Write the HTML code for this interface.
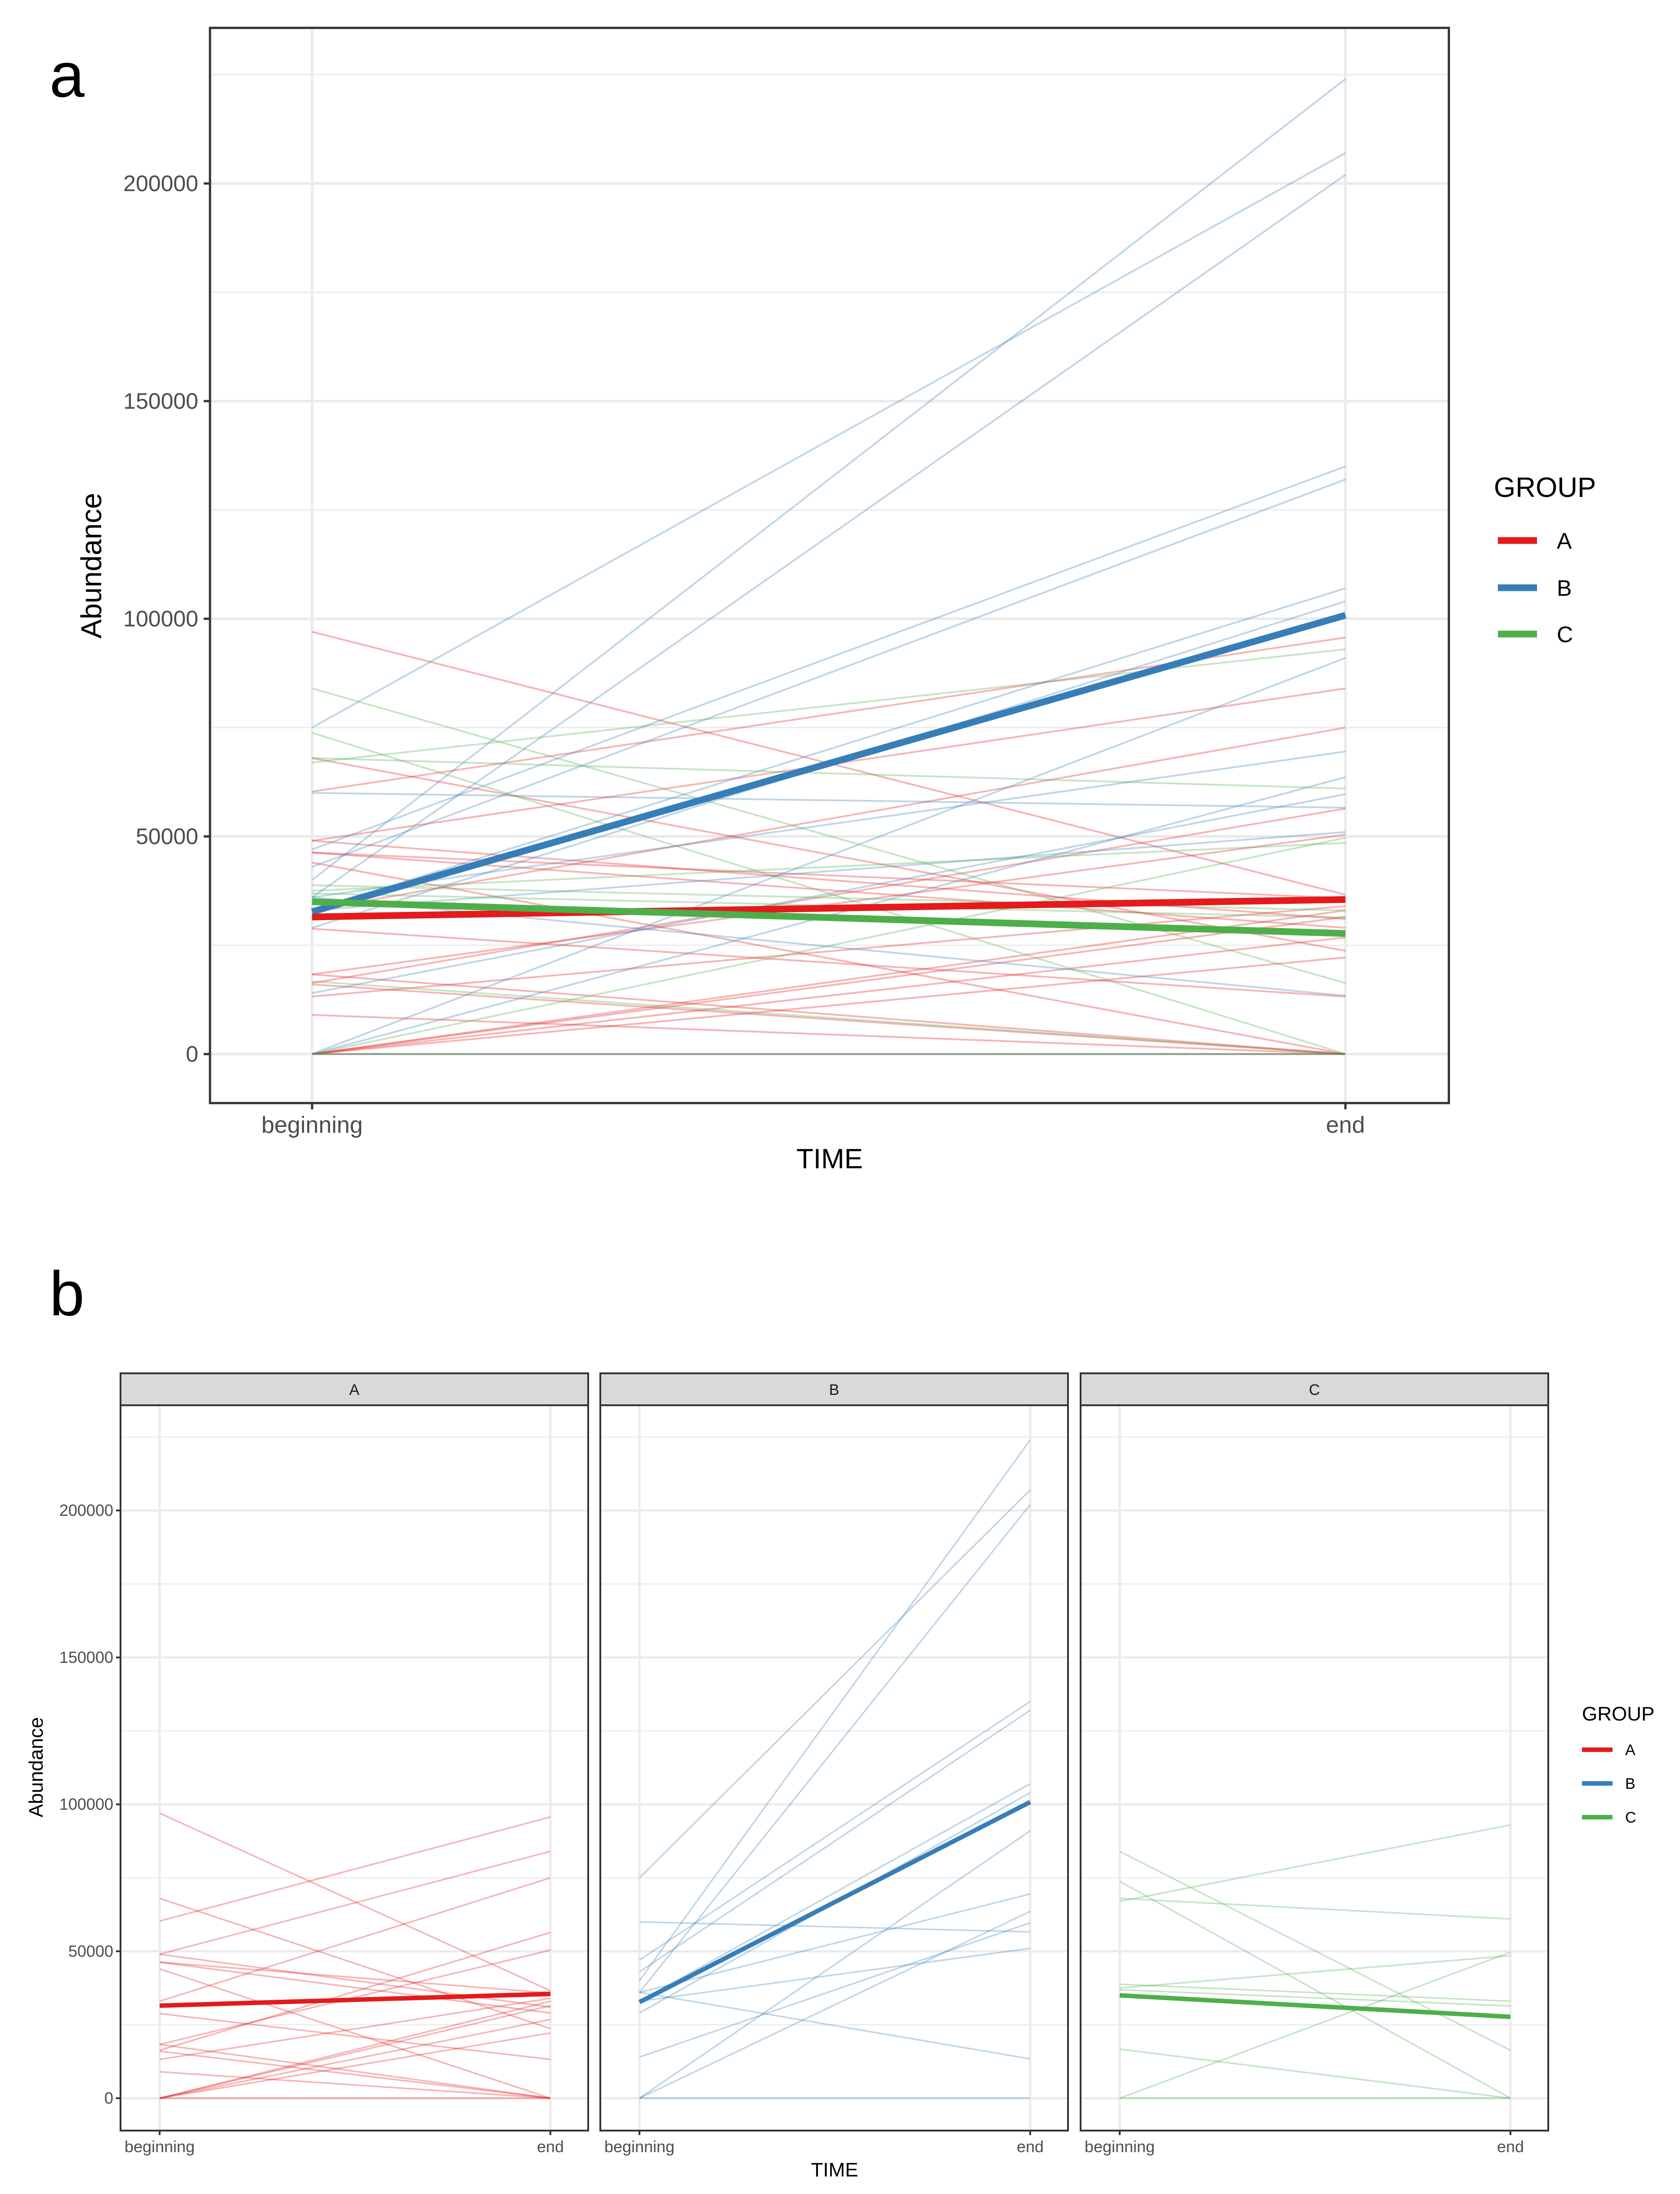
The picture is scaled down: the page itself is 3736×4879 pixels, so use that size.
<!DOCTYPE html>
<html><head><meta charset="utf-8"><style>
html,body{margin:0;padding:0;background:#fff}
svg{display:block;font-family:"Liberation Sans",Arial,sans-serif}
</style></head><body>
<svg id="chart" width="3736" height="4879" viewBox="0 0 3736 4879" xmlns="http://www.w3.org/2000/svg"></svg>
<script>
// ---- data (values in thousands) ----
const groups = ["A", "B", "C"];
const timeLabels = ["beginning", "end"];
const yTicks = [0, 50000, 100000, 150000, 200000];
const yTickLabels = ["0", "50000", "100000", "150000", "200000"];
const aBegin = [97, 68, 60.3, 49, 33, 49, 46.3, 46.3, 44, 28.8, 18.3, 16.3, 13.2, 18.3, 9, 0, 0, 0, 0, 0, 16];
const aEnd   = [36.6, 23.7, 95.7, 84, 75, 31, 29, 35.8, 0, 13.2, 50.4, 56.4, 34, 0, 0, 33, 31.5, 26.8, 22.2, 0, 0];
const bBegin = [75, 40, 36, 47, 43, 33, 29, 60, 36, 33, 36, 14, 0, 0, 0];
const bEnd   = [207, 224, 202, 135, 132, 107, 104, 56.6, 69.5, 51, 13.4, 59.7, 91, 63.6, 0];
const cBegin = [84, 73.8, 68, 67, 38.8, 36.9, 37.5, 16.7, 0, 0];
const cEnd   = [16.3, 0, 61, 93, 33, 31.4, 48.5, 0, 49.7, 0];
const meanBegin = [31.5, 32.7, 35];
const meanEnd   = [35.5, 100.8, 27.7];
const colors = ["#E41A1C", "#377EB8", "#4DAF4A"];

const svg = document.getElementById('chart');
const NS = "http://www.w3.org/2000/svg";
function mk(tag, attrs, parent) {
  const e = document.createElementNS(NS, tag);
  for (const k in attrs) e.setAttribute(k, attrs[k]);
  (parent || svg).appendChild(e);
  return e;
}
function txt(s, attrs, parent) { const t = mk('text', attrs, parent); t.textContent = s; return t; }
const begins = [aBegin, bBegin, cBegin], ends = [aEnd, bEnd, cEnd];

// ===== Panel a =====
const A = {l: 467, r: 3222, t: 62, b: 2453, x0: 694, x1: 2992, y0: 2344, per50: 484};
function yA(v) { return A.y0 - v / 50000 * A.per50; }
function xA(i) { return i === 0 ? A.x0 : A.x1; }
const gA = mk('g', {});


for (let v = -0; v <= 225000; v += 25000) {
  const major = v % 50000 === 0;
  const ln = mk('line', {x1: A.l, x2: A.r, y1: yA(v), y2: yA(v), stroke: "#EBEBEB", 'stroke-width': major ? 6 : 3}, gA);
  
  
}
for (let i = 0; i < 2; i++) {
  const ln = mk('line', {x1: xA(i), x2: xA(i), y1: A.t, y2: A.b, stroke: "#EBEBEB", 'stroke-width': 6}, gA);
  
  
}
for (let g = 0; g < 3; g++) {
  for (let k = 0; k < begins[g].length; k++) {
    const ln = mk('line', {x1: xA(0), y1: yA(begins[g][k] * 1000), x2: xA(1), y2: yA(ends[g][k] * 1000), stroke: colors[g], 'stroke-opacity': 0.32, 'stroke-width': 4}, gA);
    
    
  }
}
for (const g of [1, 0, 2]) {
  const ln = mk('line', {x1: xA(0), y1: yA(meanBegin[g] * 1000), x2: xA(1), y2: yA(meanEnd[g] * 1000), stroke: colors[g], 'stroke-width': 15}, gA);
  
  
}
const frA = mk('rect', {x: A.l, y: A.t, width: A.r - A.l, height: A.b - A.t, fill: "none", stroke: "#333", 'stroke-width': 5}, gA);


yTicks.forEach((v, i) => {
  const tk = mk('line', {x1: A.l - 14, x2: A.l, y1: yA(v), y2: yA(v), stroke: "#333", 'stroke-width': 5}, gA);
  
  
  const t = txt(yTickLabels[i], {x: A.l - 26, y: yA(v) + 17, 'text-anchor': 'end', 'font-size': 50, fill: "#4D4D4D"}, gA);
  
  
});
timeLabels.forEach((s, i) => {
  const tk = mk('line', {x1: xA(i), x2: xA(i), y1: A.b, y2: A.b + 14, stroke: "#333", 'stroke-width': 5}, gA);
  
  
  const t = txt(s, {x: xA(i), y: A.b + 66, 'text-anchor': 'middle', 'font-size': 52, fill: "#4D4D4D"}, gA);
  
  
});
let t;
t = txt("a", {x: 110, y: 215, 'font-size': 140, fill: "#000"});  
t = txt("Abundance", {x: 225, y: 1258, 'text-anchor': 'middle', 'font-size': 64, fill: "#000", transform: "rotate(-90 225 1258)"});  
t = txt("TIME", {x: 1845, y: 2598, 'text-anchor': 'middle', 'font-size': 62, fill: "#000"});  
t = txt("GROUP", {x: 3322, y: 1105, 'font-size': 62, fill: "#000"});  
[1202, 1307, 1410].forEach((yy, g) => {
  const k = mk('line', {x1: 3331, x2: 3418, y1: yy, y2: yy, stroke: colors[g], 'stroke-width': 15});
  
  
  const l = txt(groups[g], {x: 3462, y: yy + 18, 'font-size': 50, fill: "#000"});
  
  
});

// ===== Panel b =====
const B = {t: 3125, b: 4738, st: 3054, y0: 4666, per50: 326.75, bo: 87, eo: 956};
const facetL = [268, 1335, 2403], facetW = 1040;
function yB(v) { return B.y0 - v / 50000 * B.per50; }
function xB(f, i) { return facetL[f] + (i === 0 ? B.bo : B.eo); }
for (let f = 0; f < 3; f++) {
  const g = mk('g', {});
  
  
  const L = facetL[f], R = L + facetW;
  for (let v = 0; v <= 225000; v += 25000) {
    const major = v % 50000 === 0;
    const ln = mk('line', {x1: L, x2: R, y1: yB(v), y2: yB(v), stroke: "#EBEBEB", 'stroke-width': major ? 5 : 2.5}, g);
    
    
  }
  for (let i = 0; i < 2; i++) {
    const ln = mk('line', {x1: xB(f, i), x2: xB(f, i), y1: B.t, y2: B.b, stroke: "#EBEBEB", 'stroke-width': 5}, g);
    
    
  }
  for (let k = 0; k < begins[f].length; k++) {
    const ln = mk('line', {x1: xB(f, 0), y1: yB(begins[f][k] * 1000), x2: xB(f, 1), y2: yB(ends[f][k] * 1000), stroke: colors[f], 'stroke-opacity': 0.32, 'stroke-width': 3.5}, g);
    
    
  }
  const ml = mk('line', {x1: xB(f, 0), y1: yB(meanBegin[f] * 1000), x2: xB(f, 1), y2: yB(meanEnd[f] * 1000), stroke: colors[f], 'stroke-width': 10}, g);
  
  
  const fr = mk('rect', {x: L, y: B.t, width: facetW, height: B.b - B.t, fill: "none", stroke: "#333", 'stroke-width': 4}, g);
  
  
  const st = mk('rect', {x: L, y: B.st, width: facetW, height: B.t - B.st, fill: "#D9D9D9", stroke: "#333", 'stroke-width': 4}, g);
  
  
  const sl = txt(groups[f], {x: L + facetW / 2, y: B.st + 48, 'text-anchor': 'middle', 'font-size': 34, fill: "#1A1A1A"}, g);
  
  
  timeLabels.forEach((s, i) => {
    const tk = mk('line', {x1: xB(f, i), x2: xB(f, i), y1: B.b, y2: B.b + 10, stroke: "#333", 'stroke-width': 4}, g);
    
    
    const tl = txt(s, {x: xB(f, i), y: B.b + 48, 'text-anchor': 'middle', 'font-size': 36, fill: "#4D4D4D"}, g);
    
    
  });
}
yTicks.forEach((v, i) => {
  const tk = mk('line', {x1: facetL[0] - 10, x2: facetL[0], y1: yB(v), y2: yB(v), stroke: "#333", 'stroke-width': 4});
  
  
  const tl = txt(yTickLabels[i], {x: facetL[0] - 16, y: yB(v) + 12, 'text-anchor': 'end', 'font-size': 36, fill: "#4D4D4D"});
  
  
});
t = txt("b", {x: 110, y: 2925, 'font-size': 140, fill: "#000"});  
t = txt("Abundance", {x: 95, y: 3930, 'text-anchor': 'middle', 'font-size': 44, fill: "#000", transform: "rotate(-90 95 3930)"});  
t = txt("TIME", {x: 1856, y: 4840, 'text-anchor': 'middle', 'font-size': 44, fill: "#000"});  
t = txt("GROUP", {x: 3518, y: 3826, 'font-size': 44, fill: "#000"});  
[3891, 3966, 4041].forEach((yy, g) => {
  const k = mk('line', {x1: 3518, x2: 3586, y1: yy, y2: yy, stroke: colors[g], 'stroke-width': 10});
  
  
  const l = txt(groups[g], {x: 3614, y: yy + 12, 'font-size': 34, fill: "#000"});
  
  
});
</script>
</body></html>
